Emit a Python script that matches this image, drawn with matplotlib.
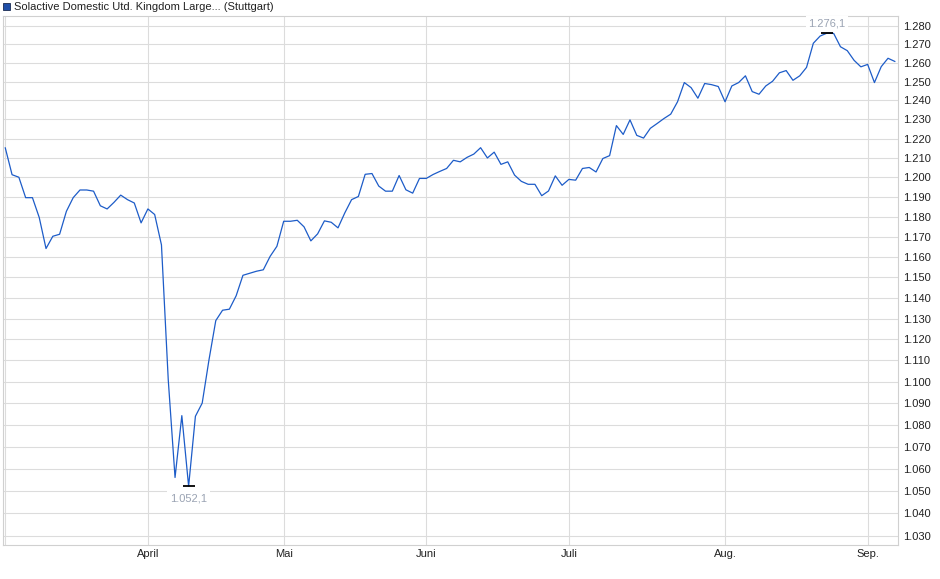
import matplotlib
matplotlib.use("Agg")
import matplotlib.pyplot as plt
from matplotlib.patches import Rectangle
from matplotlib.ticker import FixedLocator, FuncFormatter, NullLocator

plt.rcParams['font.family'] = ['Liberation Sans', 'DejaVu Sans']

title = "Solactive Domestic Utd. Kingdom Large... (Stuttgart)"

# index level, one value per trading day (early March .. early September)
prices = [
    1215.2, 1201.4, 1200.1, 1189.7, 1189.7, 1179.7, 1164.2, 1170.3, 1171.3, 1182.8,
    1189.7, 1193.6, 1193.6, 1193.0, 1185.6, 1184.0, 1187.3, 1191.0, 1188.7, 1187.0,
    1177.0, 1184.0, 1181.2, 1166.0, 1100.9, 1056.0, 1084.2, 1052.1, 1083.9, 1090.0,
    1110.3, 1129.0, 1134.0, 1134.5, 1141.0, 1151.0, 1152.0, 1153.0, 1153.7, 1160.3,
    1165.3, 1177.8, 1177.8, 1178.3, 1175.0, 1168.0, 1171.5, 1178.0, 1177.3, 1174.5,
    1182.0, 1188.7, 1190.3, 1201.6, 1202.0, 1195.6, 1193.0, 1193.0, 1201.0, 1193.7,
    1192.0, 1199.5, 1199.5, 1201.5, 1203.1, 1204.6, 1208.8, 1208.0, 1210.3, 1212.0,
    1215.3, 1210.0, 1213.0, 1206.7, 1208.0, 1201.2, 1198.0, 1196.5, 1196.5, 1190.7,
    1193.1, 1200.8, 1196.0, 1199.0, 1198.6, 1204.6, 1205.1, 1202.8, 1209.7, 1211.2,
    1226.8, 1222.2, 1229.8, 1221.7, 1220.3, 1225.4, 1227.9, 1230.5, 1232.8, 1239.3,
    1249.5, 1246.8, 1241.2, 1249.0, 1248.4, 1247.4, 1239.3, 1247.7, 1249.5, 1253.1,
    1244.7, 1243.3, 1247.7, 1250.2, 1254.7, 1255.9, 1250.7, 1253.1, 1257.6, 1270.6,
    1274.5, 1276.1, 1275.9, 1268.7, 1266.6, 1261.4, 1257.9, 1259.2, 1249.5, 1258.0,
    1262.5, 1260.8,
]

# first trading day of each month (index into prices)
month_pos = [0, 21, 41, 62, 83, 106, 127]
month_labels = ["", "April", "Mai", "Juni", "Juli", "Aug.", "Sep."]

y_ticks = list(range(1030, 1290, 10))

def de_fmt(v, decimals=0):
    s = f"{v:,.{decimals}f}"
    return s.replace(",", "#").replace(".", ",").replace("#", ".")

fig = plt.figure(figsize=(9.4, 5.79), dpi=100)
ax = fig.add_axes([2.7 / 940, 1 - 545 / 579, (898 - 2.7) / 940, (545 - 16) / 579])

days = list(range(len(prices)))
ax.plot(days, prices, color="#1d5cc8", linewidth=0.9, zorder=3)

ax.set_yscale("log")
ax.set_ylim(1026.06, 1285.44)
ax.set_xlim(-0.38, 131.47)

ax.yaxis.set_major_locator(FixedLocator(y_ticks))
ax.yaxis.set_major_formatter(FuncFormatter(lambda v, p: de_fmt(v)))
ax.yaxis.set_minor_locator(NullLocator())
ax.yaxis.tick_right()
ax.set_xticks(month_pos)
ax.set_xticklabels(month_labels)
ax.tick_params(axis="both", length=0, labelsize=8, colors="#222222")
ax.tick_params(axis="y", pad=4)
ax.tick_params(axis="x", pad=3)

ax.grid(True, color="#dcdcdc", linewidth=0.8, zorder=0)
for sp in ax.spines.values():
    sp.set_color("#d0d0d0")
    sp.set_linewidth(0.8)

# high / low markers
i_hi = prices.index(max(prices))
i_lo = prices.index(min(prices))
ax.plot([i_hi], [prices[i_hi]], marker="_", markersize=9, mew=1.3, color="black", zorder=4)
ax.plot([i_lo], [prices[i_lo]], marker="_", markersize=9, mew=1.3, color="black", zorder=4)
box = dict(facecolor="white", edgecolor="none", pad=2)
ax.annotate(de_fmt(prices[i_hi], 1), (i_hi, prices[i_hi]), xytext=(0, 3),
            textcoords="offset points", ha="center", va="bottom", fontsize=8,
            color="#9aa3b3", bbox=box, zorder=5)
ax.annotate(de_fmt(prices[i_lo], 1), (i_lo, prices[i_lo]), xytext=(0, -5),
            textcoords="offset points", ha="center", va="top", fontsize=8,
            color="#9aa3b3", bbox=box, zorder=5)

# legend at the top
fig.add_artist(Rectangle((3 / 940, 1 - 10 / 579), 7 / 940, 7 / 579,
                         transform=fig.transFigure, facecolor="#1f4fa8",
                         edgecolor="#1a2a50", linewidth=0.6))
fig.text(14 / 940, 1 - 6.5 / 579, title, fontsize=8, va="center", ha="left", color="#222222")

fig.savefig("out.png", dpi=100)
